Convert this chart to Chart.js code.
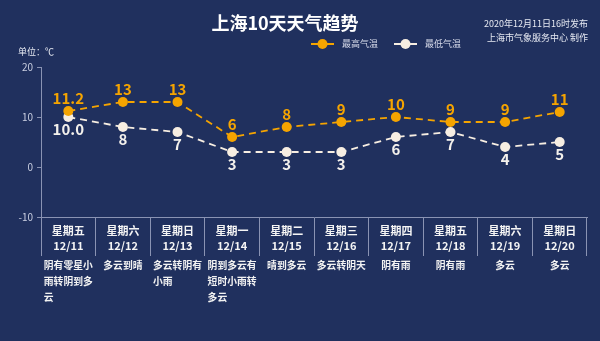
<!DOCTYPE html>
<html>
<head>
<meta charset="utf-8">
<title>上海10天天气趋势</title>
<script src="https://cdn.jsdelivr.net/npm/chart.js@4.4.1/dist/chart.umd.min.js"></script>
<style>
  html, body { margin: 0; padding: 0; background: #20305e; }
  canvas { display: block; }
</style>
</head>
<body>
<canvas id="trend" width="600" height="341"></canvas>
<script>
const weekdays = ["星期五", "星期六", "星期日", "星期一", "星期二", "星期三", "星期四", "星期五", "星期六", "星期日"];
const dates = ["12/11", "12/12", "12/13", "12/14", "12/15", "12/16", "12/17", "12/18", "12/19", "12/20"];
const weather = ["阴有零星小雨转阴到多云", "多云到晴", "多云转阴有小雨", "阴到多云有短时小雨转多云", "晴到多云", "多云转阴天", "阴有雨", "阴有雨", "多云", "多云"];
const highTemps = [11.2, 13, 13, 6, 8, 9, 10, 9, 9, 11];
const lowTemps = [10.0, 8, 7, 3, 3, 3, 6, 7, 4, 5];
const yTicks = [-10, 0, 10, 20];

const FONT = "'Noto Sans CJK SC', 'Noto Sans', sans-serif";
const ORANGE = "#f5a400";
const CREAM = "#f7eee2";
const AXIS = "#8a93b3";

function fmt(v, i) {
  // the first day is published with one decimal
  return i === 0 ? v.toFixed(1) : String(v);
}

const decorPlugin = {
  id: "decor",
  beforeDraw(chart) {
    const ctx = chart.ctx;
    ctx.save();
    ctx.fillStyle = "#20305e";
    ctx.fillRect(0, 0, chart.width, chart.height);
    ctx.restore();
  },
  afterDraw(chart) {
    const ctx = chart.ctx;
    ctx.save();

    // title
    ctx.fillStyle = "#ffffff";
    ctx.font = "bold 18px " + FONT;
    ctx.textAlign = "center";
    ctx.textBaseline = "middle";
    ctx.fillText("上海10天天气趋势", 285, 23);

    // issue info, top right
    ctx.font = "9px " + FONT;
    ctx.textAlign = "right";
    ctx.fillStyle = "#e6e9f2";
    ctx.fillText("2020年12月11日16时发布", 588, 24);
    ctx.fillText("上海市气象服务中心 制作", 588, 38);

    // unit
    ctx.textAlign = "left";
    ctx.fillText("单位：℃", 18, 52);

    // legend
    const legendX = [311, 394];
    chart.data.datasets.forEach((ds, i) => {
      const x = legendX[i];
      const y = 44;
      ctx.strokeStyle = ds.borderColor;
      ctx.lineWidth = 2;
      ctx.beginPath();
      ctx.moveTo(x, y);
      ctx.lineTo(x + 23, y);
      ctx.stroke();
      ctx.fillStyle = ds.pointBackgroundColor;
      ctx.beginPath();
      ctx.arc(x + 11.5, y, 5, 0, Math.PI * 2);
      ctx.fill();
      ctx.fillStyle = "#d9dceb";
      ctx.font = "9px " + FONT;
      ctx.textAlign = "left";
      ctx.fillText(ds.label, x + 31, y);
    });

    // value labels
    chart.data.datasets.forEach((ds, i) => {
      const meta = chart.getDatasetMeta(i);
      ctx.fillStyle = ds.pointBackgroundColor === ORANGE ? ORANGE : "#f4f1ec";
      ctx.font = "bold 15px " + FONT;
      ctx.textAlign = "center";
      meta.data.forEach((pt, j) => {
        const text = fmt(ds.data[j], j);
        if (i === 0) {
          ctx.textBaseline = "bottom";
          ctx.fillText(text, pt.x, pt.y - 5);
        } else {
          ctx.textBaseline = "top";
          ctx.fillText(text, pt.x, pt.y + 5);
        }
      });
    });

    // weather descriptions under each day
    const xScale = chart.scales.x;
    ctx.font = "bold 9.8px " + FONT;
    ctx.fillStyle = "#f2f2f2";
    ctx.textBaseline = "middle";
    ctx.textAlign = "left";
    weather.forEach((desc, j) => {
      const lines = [];
      let cur = "";
      for (const ch of desc) {
        if (ctx.measureText(cur + ch).width > 51 && cur) {
          lines.push(cur);
          cur = ch;
        } else {
          cur += ch;
        }
      }
      if (cur) lines.push(cur);
      const widest = Math.max(...lines.map((l) => ctx.measureText(l).width));
      const cx = xScale.getPixelForValue(j);
      lines.forEach((l, k) => {
        ctx.fillText(l, cx - widest / 2, 265 + k * 16);
      });
    });

    ctx.restore();
  },
};

new Chart(document.getElementById("trend"), {
  type: "line",
  data: {
    labels: weekdays.map((d, i) => [d, dates[i]]),
    datasets: [
      {
        label: "最高气温",
        data: highTemps,
        borderColor: ORANGE,
        pointBackgroundColor: ORANGE,
        borderWidth: 1.8,
        borderDash: [7, 5],
        pointRadius: 5,
        pointBorderWidth: 0,
        tension: 0,
      },
      {
        label: "最低气温",
        data: lowTemps,
        borderColor: CREAM,
        pointBackgroundColor: CREAM,
        borderWidth: 1.8,
        borderDash: [7, 5],
        pointRadius: 5,
        pointBorderWidth: 0,
        tension: 0,
      },
    ],
  },
  options: {
    responsive: false,
    animation: false,
    layout: { padding: { top: 67, right: 13, left: 0, bottom: 0 } },
    plugins: {
      legend: { display: false },
      title: { display: false },
      tooltip: { enabled: false },
    },
    scales: {
      x: {
        offset: true,
        grid: {
          offset: true,
          drawOnChartArea: false,
          tickLength: 39,
          color: AXIS,
          lineWidth: 1,
        },
        border: { color: AXIS, width: 1 },
        ticks: {
          color: "#f4f4f4",
          padding: -33,
          font: { family: FONT, size: 11, weight: "bold", lineHeight: 1.4 },
          maxRotation: 0,
          autoSkip: false,
        },
        afterFit(scale) {
          scale.height = 124;
        },
      },
      y: {
        min: -10,
        max: 20,
        afterBuildTicks(scale) {
          scale.ticks = yTicks.map((v) => ({ value: v }));
        },
        grid: {
          drawOnChartArea: false,
          tickLength: 4,
          color: AXIS,
        },
        border: { color: AXIS, width: 1 },
        ticks: {
          color: "#c9cee0",
          padding: 4,
          font: { family: FONT, size: 10 },
        },
        afterFit(scale) {
          scale.width = 41;
        },
      },
    },
  },
  plugins: [decorPlugin],
});
</script>
</body>
</html>
